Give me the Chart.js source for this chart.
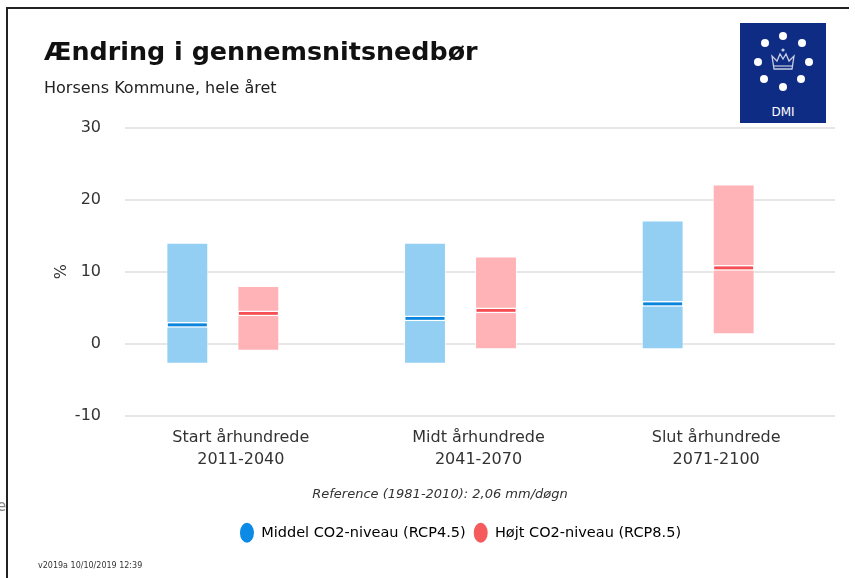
<!DOCTYPE html>
<html>
<head>
<meta charset="utf-8">
<script src="https://cdn.jsdelivr.net/npm/chart.js@4.4.0/dist/chart.umd.min.js"></script>
<style>
    html, body { margin: 0; padding: 0; background: #fff; }
    #wrap { position: relative; width: 855px; height: 578px; overflow: hidden; font-family: "DejaVu Sans", sans-serif; }
    #frame { position: absolute; left: 6px; top: 7px; right: 6px; bottom: -5px; border-left: 2px solid #222; border-top: 2px solid #222; }
    #chart { position: absolute; left: 0; top: 0; }
    #ref { position: absolute; left: 0; width: 880px; top: 486px; text-align: center; font-style: italic; font-size: 13px; color: #333; }
    #foot { position: absolute; left: 38px; top: 561px; font-size: 8px; color: #333; }
    #stray { position: absolute; left: -3px; top: 497px; font-size: 15px; color: #888; }
    #logo { position: absolute; left: 740px; top: 23px; }
</style>
</head>
<body>
<div id="wrap">
    <div id="frame"></div>
    <canvas id="chart" width="855" height="578"></canvas>
    <div id="stray">e</div>
    <div id="ref">Reference (1981-2010): 2,06 mm/døgn</div>
    <div id="foot">v2019a 10/10/2019 12:39</div>
    <svg id="logo" width="86" height="100" viewBox="0 0 86 100">
        <rect x="0" y="0" width="86" height="100" fill="#0f2c85"/>
        <circle cx="43" cy="13" r="4" fill="#fff"/>
        <circle cx="25" cy="20" r="4" fill="#fff"/>
        <circle cx="62" cy="20" r="4" fill="#fff"/>
        <circle cx="18" cy="39" r="4" fill="#fff"/>
        <circle cx="69" cy="39" r="4" fill="#fff"/>
        <circle cx="24" cy="56" r="4" fill="#fff"/>
        <circle cx="61" cy="56" r="4" fill="#fff"/>
        <circle cx="43" cy="64" r="4" fill="#fff"/>
        <path d="M34 46 L32 33 L37 38 L40 31 L43 36 L46 31 L49 38 L54 33 L52 46 Z" fill="none" stroke="#c8cde0" stroke-width="1.3"/>
        <line x1="34" y1="43" x2="52" y2="43" stroke="#c8cde0" stroke-width="1.2"/>
        <circle cx="43" cy="27" r="1.6" fill="#c8cde0"/>
        <text x="43" y="93" text-anchor="middle" font-family="DejaVu Sans" font-size="12" fill="#fff">DMI</text>
    </svg>
</div>
<script>
const categories = [['Start århundrede', '2011-2040'], ['Midt århundrede', '2041-2070'], ['Slut århundrede', '2071-2100']];
const seriesNames = ['Middel CO2-niveau (RCP4.5)', 'Højt CO2-niveau (RCP8.5)'];

// RCP4.5
const lowRcp45 = [-2.8, -2.8, -0.8];
const highRcp45 = [14, 14, 17.1];
const medianRcp45 = [2.6, 3.5, 5.5];

// RCP8.5
const lowRcp85 = [-1, -0.8, 1.3];
const highRcp85 = [8, 12.1, 22.1];
const medianRcp85 = [4.2, 4.6, 10.5];

const yTicks = [-10, 0, 10, 20, 30];

const rangeColors = ['#92cff3', '#ffb3b6'];
const medianColors = ['#0a84dc', '#f54f55'];
const legendColors = ['#0b8be6', '#f55a5c'];

const rangeData = (lo, hi) => lo.map((v, i) => [v, hi[i]]);
const medianData = m => m.map(v => [v - 0.4, v + 0.4]);

// gridlines run a bit further right than the bar groups, like the original
const gridPlugin = {
    id: 'grid',
    beforeDatasetsDraw(chart) {
        const y = chart.scales.y;
        const c = chart.ctx;
        c.save();
        c.strokeStyle = '#e6e6e6';
        c.lineWidth = 2;
        yTicks.forEach(t => {
            const py = Math.round(y.getPixelForValue(t));
            c.beginPath();
            c.moveTo(125, py);
            c.lineTo(835, py);
            c.stroke();
        });
        c.restore();
    }
};

const font = "'DejaVu Sans', sans-serif";
const ctx = document.getElementById('chart').getContext('2d');

new Chart(ctx, {
    type: 'bar',
    data: {
        labels: categories,
        datasets: [
            { label: 'median45', data: medianData(medianRcp45), stack: 'rcp45', order: 0, backgroundColor: medianColors[0], borderColor: '#ffffff', borderWidth: 1.5, borderSkipped: false },
            { label: 'median85', data: medianData(medianRcp85), stack: 'rcp85', order: 0, backgroundColor: medianColors[1], borderColor: '#ffffff', borderWidth: 1.5, borderSkipped: false },
            { label: seriesNames[0], data: rangeData(lowRcp45, highRcp45), stack: 'rcp45', order: 1, backgroundColor: rangeColors[0], borderColor: 'rgba(255,255,255,0.7)', borderWidth: 1, borderSkipped: false },
            { label: seriesNames[1], data: rangeData(lowRcp85, highRcp85), stack: 'rcp85', order: 1, backgroundColor: rangeColors[1], borderColor: 'rgba(255,255,255,0.7)', borderWidth: 1, borderSkipped: false }
        ]
    },
    options: {
        responsive: false,
        animation: false,
        categoryPercentage: 0.5975,
        barPercentage: 0.59,
        layout: { padding: { left: 44, right: 38, top: 38, bottom: 28 } },
        plugins: {
            title: {
                display: true, align: 'start', text: 'Ændring i gennemsnitsnedbør',
                color: '#111', font: { family: font, size: 25.4, weight: 'bold' },
                padding: { top: 0, bottom: 11 }
            },
            subtitle: {
                display: true, align: 'start', text: 'Horsens Kommune, hele året',
                color: '#222', font: { family: font, size: 16 },
                padding: { top: 0, bottom: 29 }
            },
            legend: {
                position: 'bottom',
                fullSize: false,
                labels: {
                    usePointStyle: true, pointStyleWidth: 14, boxHeight: 14, padding: 8,
                    color: '#333', font: { family: font, size: 14.5 },
                    generateLabels: () => seriesNames.map((n, i) => ({
                        text: n, fillStyle: legendColors[i], strokeStyle: legendColors[i],
                        lineWidth: 0, pointStyle: 'circle', hidden: false, datasetIndex: i + 2
                    }))
                },
                onClick: () => {}
            },
            tooltip: { enabled: false }
        },
        scales: {
            x: {
                stacked: true,
                grid: { display: false, drawTicks: false }, border: { display: false },
                afterFit: s => { s.height = 102; },
                ticks: {
                    autoSkip: false, maxRotation: 0,
                    labelOffset: 18, padding: 11,
                    color: '#333', font: { family: font, size: 16, lineHeight: 1.4 }
                }
            },
            y: {
                stacked: false,
                min: yTicks[0], max: yTicks[yTicks.length - 1],
                afterFit: s => { s.width = 60; },
                afterBuildTicks: s => { s.ticks = yTicks.map(v => ({ value: v })); },
                grid: { display: false, drawTicks: false },
                border: { display: false },
                title: { display: true, text: '%', color: '#333', font: { family: font, size: 16 }, padding: { top: 8, bottom: 0 } },
                ticks: { padding: 3, color: '#333', font: { family: font, size: 16 } }
            }
        }
    },
    plugins: [gridPlugin]
});
</script>
</body>
</html>
